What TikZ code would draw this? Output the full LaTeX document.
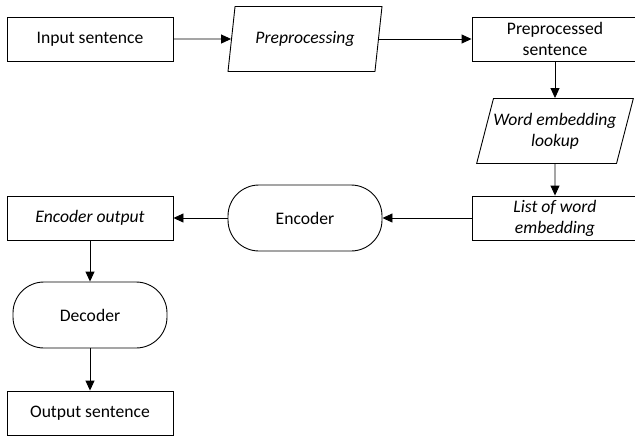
\documentclass[tikz,border=0pt]{standalone}
\usepackage{fontspec}
\setmainfont{Carlito}
\usetikzlibrary{shapes.geometric,arrows.meta}

\begin{document}
\begin{tikzpicture}[x=1pt, y=-1pt, line width=0.9pt,
  font=\fontsize{17.6}{21}\selectfont,
  box/.style={rectangle, draw, minimum width=166pt, minimum height=44pt, align=center, inner sep=0pt},
  iobox/.style={trapezium, trapezium left angle=65, trapezium right angle=115, trapezium stretches body, draw, minimum width=154pt, minimum height=65pt, align=center, inner sep=0pt, font=\fontsize{17.6}{21}\selectfont\itshape},
  procbox/.style={rectangle, rounded corners=31pt, draw, minimum width=154pt, minimum height=66pt},
  flow/.style={-{Triangle[length=10pt,width=9pt]}}]
\useasboundingbox (0,0) rectangle (635,437);
% Top row
\node[box] (inp) at (90,39) {Input sentence};
\node[iobox] (prep) at (305,39) {Preprocessing};
\node[box] (prepsent) at (555,39) {Preprocessed\\sentence};
% Right column
\node[iobox] (lookup) at (555,131) {Word embedding\\lookup};
\node[box, font=\fontsize{17.6}{21}\selectfont\itshape] (wordlist) at (555,218) {List of word\\embedding};
% Encoder row
\node[procbox] (enc) at (305,218) {Encoder};
\node[box, font=\fontsize{17.6}{21}\selectfont\itshape] (encout) at (90,218) {Encoder output};
% Left column
\node[procbox] (dec) at (90,315) {Decoder};
\node[box] (outp) at (90,413) {Output sentence};
% Connectors
\draw[flow] (inp) -- (prep);
\draw[flow] (prep) -- (prepsent);
\draw[flow] (prepsent) -- (lookup);
\draw[flow] (lookup) -- (wordlist);
\draw[flow] (wordlist) -- (enc);
\draw[flow] (enc) -- (encout);
\draw[flow] (encout) -- (dec);
\draw[flow] (dec) -- (outp);
\end{tikzpicture}
\end{document}
